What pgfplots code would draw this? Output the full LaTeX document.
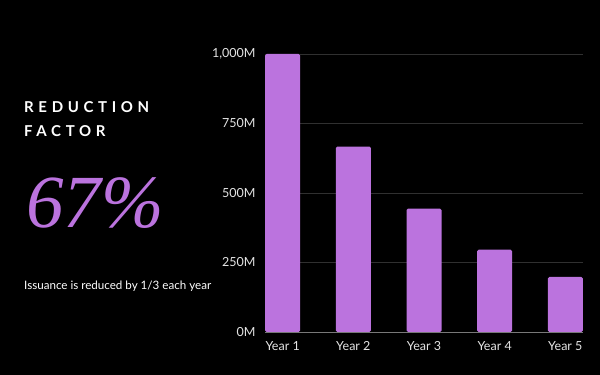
\documentclass[border=0pt]{standalone}
\usepackage{fontspec}
\setsansfont{Lato}
\newfontfamily\bigserif{Liberation Serif}
\usepackage{pgfplots}
\pgfplotsset{compat=1.18}
\definecolor{barpurple}{RGB}{187,115,222}
\definecolor{gridc}{RGB}{48,48,48}
\definecolor{axisc}{RGB}{120,120,120}
\definecolor{tickc}{RGB}{228,228,228}
\begin{document}
\begin{tikzpicture}[x=1pt,y=1pt]
\fill[black] (0,0) rectangle (600,375);
\node[anchor=base west, text=white, inner sep=0pt, font=\sffamily\bfseries\fontsize{15}{15}\selectfont\addfontfeature{LetterSpace=31}] at (24,262) {REDUCTION};
\node[anchor=base west, text=white, inner sep=0pt, font=\sffamily\bfseries\fontsize{15}{15}\selectfont\addfontfeature{LetterSpace=31}] at (24,238) {FACTOR};
\node[anchor=base west, text=barpurple, inner sep=0pt, font=\bigserif\itshape\fontsize{75}{75}\selectfont] at (26,147) {67\%};
\node[anchor=base west, text=white, inner sep=0pt, font=\sffamily\fontsize{11.6}{11.6}\selectfont] at (24,85) {Issuance is reduced by 1/3 each year};
\begin{axis}[
  at={(265pt,43pt)}, anchor=south west,
  scale only axis, width=318pt, height=278pt,
  xmin=-0.25, xmax=4.25, ymin=0, ymax=1000,
  axis line style={draw=none},
  major tick length=0pt,
  ymajorgrids, grid style={gridc, line width=0.6pt},
  xtick={0,1,2,3,4},
  xticklabels={Year 1,Year 2,Year 3,Year 4,Year 5},
  ytick={0,250,500,750,1000},
  yticklabels={0M,250M,500M,750M,{1,000M}},
  ticklabel style={font=\sffamily\fontsize{12.5}{12.5}\selectfont, text=tickc},
  yticklabel style={xshift=-6pt},
  xticklabel style={yshift=-6pt},
  clip=false,
]
\addplot[ybar, bar width=35pt, fill=barpurple, draw=none, rounded corners=1.5pt]
  coordinates {(0,1000) (1,667) (2,444) (3,296) (4,198)};
\draw[axisc, line width=0.8pt] (axis cs:-0.25,0) -- (axis cs:4.25,0);
\end{axis}
\end{tikzpicture}
\end{document}
